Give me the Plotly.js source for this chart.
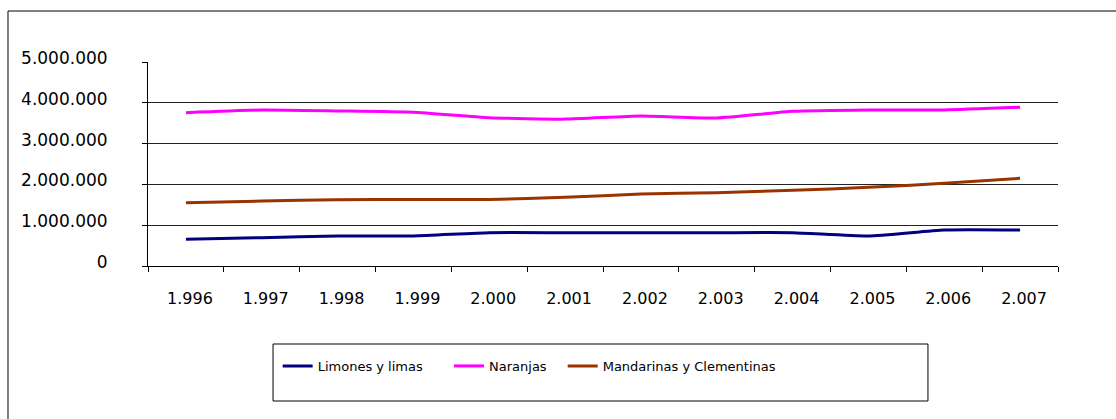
<!DOCTYPE html>
<html>
<head>
<meta charset="utf-8">
<script src="https://cdn.plot.ly/plotly-3.0.1.min.js"></script>
<style>
  html, body { margin: 0; padding: 0; background: #fff; }
  #chart { width: 1116px; height: 419px; }
</style>
</head>
<body>
<div id="chart"></div>
<script>
const years = ['1.996', '1.997', '1.998', '1.999', '2.000', '2.001', '2.002', '2.003', '2.004', '2.005', '2.006', '2.007'];
const limones = [654000, 695000, 735000, 735000, 816000, 816000, 816000, 816000, 816000, 735000, 882000, 882000];
const naranjas = [3757000, 3824000, 3800000, 3767000, 3635000, 3600000, 3676000, 3627000, 3790000, 3824000, 3824000, 3890000];
const mandarinas = [1552000, 1593000, 1626000, 1630000, 1630000, 1683000, 1765000, 1797000, 1855000, 1928000, 2026000, 2149000];
const seriesNames = ['Limones y limas', 'Naranjas', 'Mandarinas y Clementinas'];
const seriesColors = ['#000080', '#FF00FF', '#993300'];
const yTicks = [0, 1000000, 2000000, 3000000, 4000000, 5000000];

const FONT = 'DejaVu Sans, Verdana, sans-serif';
const seriesData = [limones, naranjas, mandarinas];
const legendIds = ['legend', 'legend2', 'legend3'];

const traces = seriesData.map((vals, i) => ({
  type: 'scatter',
  mode: 'lines',
  x: years,
  y: vals,
  name: seriesNames[i],
  legend: legendIds[i],
  line: { color: seriesColors[i], width: 3, shape: 'spline', smoothing: 0.5 },
  hoverinfo: 'x+y+name'
}));

const legendX = [0.1425, 0.3308, 0.4557];
const legendBase = {
  orientation: 'h',
  y: -0.49,
  yanchor: 'middle',
  xanchor: 'left',
  bgcolor: 'rgba(0,0,0,0)',
  borderwidth: 0,
  font: { family: FONT, size: 13, color: '#000' }
};

const layout = {
  width: 1116,
  height: 419,
  margin: { l: 148, r: 58, t: 62, b: 153 },
  paper_bgcolor: '#fff',
  plot_bgcolor: '#fff',
  separators: ',.',
  font: { family: FONT, size: 16, color: '#000' },
  showlegend: true,
  legend: Object.assign({}, legendBase, { x: legendX[0] }),
  legend2: Object.assign({}, legendBase, { x: legendX[1] }),
  legend3: Object.assign({}, legendBase, { x: legendX[2] }),
  xaxis: {
    type: 'category',
    range: [-0.5, 11.5],
    tickson: 'boundaries',
    ticks: 'outside',
    ticklen: 5,
    tickcolor: '#000',
    showgrid: false,
    showline: true,
    linecolor: '#000',
    linewidth: 1,
    ticklabelstandoff: 18,
    ticklabelshift: 4,
    tickfont: { family: FONT, size: 16, color: '#000' },
    fixedrange: true
  },
  yaxis: {
    range: [0, 5000000],
    tickvals: yTicks,
    tickformat: ',d',
    ticks: 'outside',
    ticklen: 5,
    tickcolor: '#000',
    showgrid: true,
    gridcolor: '#222',
    gridwidth: 1,
    zeroline: false,
    showline: true,
    linecolor: '#000',
    linewidth: 1,
    ticklabelstandoff: 31,
    ticklabelshift: -4,
    tickfont: { family: FONT, size: 17, color: '#000' },
    fixedrange: true
  },
  shapes: [
    { type: 'rect', xref: 'paper', yref: 'paper', x0: -0.15385, x1: 1.1, y0: -0.9, y1: 1.25,
      line: { color: '#000', width: 1 }, fillcolor: 'rgba(0,0,0,0)', layer: 'below' },
    { type: 'rect', xref: 'paper', yref: 'paper', x0: 0.1374, x1: 0.8571, y0: -0.6618, y1: -0.3824,
      line: { color: '#000', width: 1 }, fillcolor: 'rgba(0,0,0,0)', layer: 'below' }
  ]
};

Plotly.newPlot('chart', traces, layout, { displayModeBar: false, staticPlot: true });
</script>
</body>
</html>
